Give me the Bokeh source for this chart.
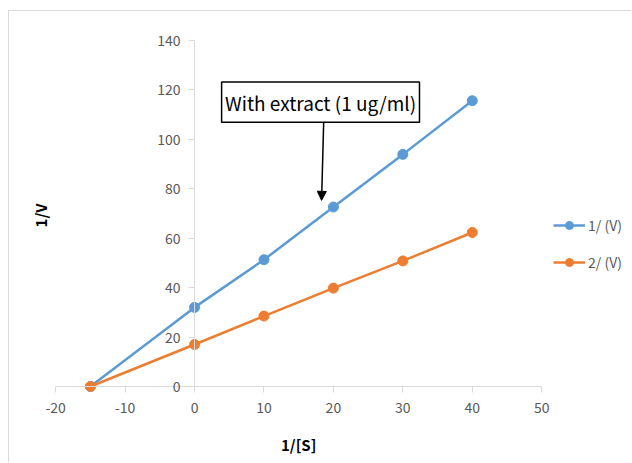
import math
from bokeh.plotting import figure
from bokeh.models import (Range1d, FixedTicker, Label, BoxAnnotation, Arrow, NormalHead,
                          Legend, LegendItem)
from bokeh.embed import file_html
from bokeh.resources import INLINE

# data
x_vals = [-15, 0, 10, 20, 30, 40]
series1 = [0, 32, 51.3, 72.6, 93.9, 115.6]
series2 = [0, 17, 28.5, 39.8, 50.8, 62.3]
series_names = ["1/ (V)", "2/ (V)"]
x_ticks = [-20, -10, 0, 10, 20, 30, 40, 50]
x_tick_labels = ["-20", "-10", "0", "10", "20", "30", "40", "50"]
y_ticks = [0, 20, 40, 60, 80, 100, 120, 140]
annotation_text = "With extract (1 ug/ml)"

FONT = "Noto Sans CJK KR"
BLUE = "#5b9bd5"
ORANGE = "#ed7d31"
AX = "#d9d9d9"

# frame fills the whole canvas; ranges chosen so that x=0 / y=0 sit where the reference has them
p = figure(width=623, height=452, output_backend="svg", toolbar_location=None,
           x_range=Range1d(-26.65, 63.08), y_range=Range1d(-31.15, 151.7),
           min_border_left=0, min_border_right=0, min_border_top=0, min_border_bottom=0)
p.styles = {"margin-left": "8px", "margin-top": "10px",
            "border-left": "1px solid #d9d9d9", "border-top": "1px solid #d9d9d9"}
p.outline_line_color = None
p.xgrid.visible = False
p.ygrid.visible = False

for ax, ticks, bounds in ((p.xaxis[0], x_ticks, (-20, 50)), (p.yaxis[0], y_ticks, (0, 140))):
    ax.fixed_location = 0
    ax.ticker = FixedTicker(ticks=ticks)
    ax.bounds = bounds
    ax.axis_line_color = AX
    ax.axis_line_width = 1
    ax.major_tick_line_color = AX
    ax.major_tick_out = 6
    ax.major_tick_in = 0
    ax.minor_tick_line_color = None
    ax.major_label_text_font = FONT
    ax.major_label_text_font_size = "14px"
    ax.major_label_text_color = "#595959"
p.xaxis[0].major_label_overrides = dict(zip(x_ticks, x_tick_labels))
p.xaxis[0].major_label_standoff = 10
p.yaxis[0].major_label_standoff = 8

l1 = p.line(x_vals, series1, line_color=BLUE, line_width=2.5)
s1 = p.scatter(x_vals, series1, size=10, fill_color=BLUE, line_color=BLUE)
l2 = p.line(x_vals, series2, line_color=ORANGE, line_width=2.5)
s2 = p.scatter(x_vals, series2, size=10, fill_color=ORANGE, line_color=ORANGE)

legend = Legend(items=[LegendItem(label=series_names[0], renderers=[l1, s1]),
                       LegendItem(label=series_names[1], renderers=[l2, s2])],
                location=(544, 191), padding=0, margin=0, spacing=17,
                glyph_width=32, glyph_height=20, label_height=20, label_standoff=3,
                label_text_font=FONT, label_text_font_size="14px", label_text_color="#595959",
                border_line_color=None, background_fill_alpha=0)
p.add_layout(legend)

# annotation box + arrow
box = BoxAnnotation(left=3.9, right=32.4, bottom=106.9, top=123.2,
                    fill_color="white", fill_alpha=1, line_color="black", line_alpha=1,
                    line_width=1.5)
p.add_layout(box)
p.add_layout(Label(x=18.15, y=115.0, text=annotation_text, text_align="center",
                   text_baseline="middle", text_font=FONT, text_font_size="19px",
                   text_color="black"))
p.add_layout(Arrow(x_start=18.6, y_start=106.9, x_end=18.3, y_end=75.3,
                   line_color="black", line_width=1.5,
                   end=NormalHead(size=9, fill_color="black", line_color="black")))

# axis titles
p.add_layout(Label(x=15.0, y=-23.5, text="1/[S]", text_align="center", text_baseline="middle",
                   text_font=FONT, text_font_size="15px", text_font_style="bold",
                   text_color="black"))
p.add_layout(Label(x=-22.2, y=69.2, text="1/V", text_align="center", text_baseline="middle",
                   angle=math.pi / 2, text_font=FONT, text_font_size="15px",
                   text_font_style="bold", text_color="black"))

open("out.html", "w").write(file_html(p, INLINE))
